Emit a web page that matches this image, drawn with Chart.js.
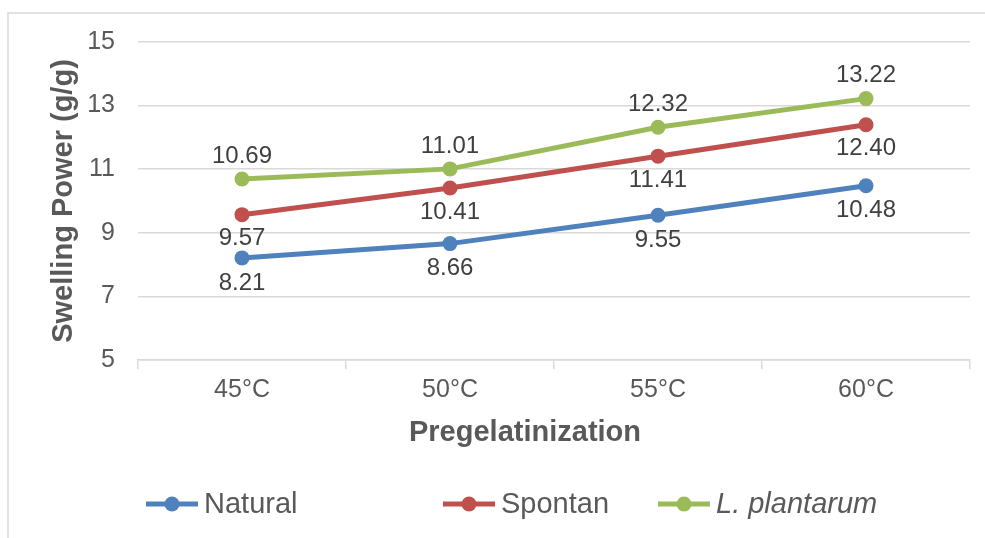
<!DOCTYPE html>
<html>
<head>
<meta charset="utf-8">
<script src="https://cdn.jsdelivr.net/npm/chart.js@4.4.1/dist/chart.umd.min.js"></script>
<style>
  html, body { margin: 0; padding: 0; background: #fff; }
  #wrap { position: relative; width: 985px; height: 538px; overflow: hidden; }
</style>
</head>
<body>
<div id="wrap"><canvas id="swellingChart" width="985" height="538"></canvas></div>
<script>
// ===== data =====
const categories = ['45°C', '50°C', '55°C', '60°C'];
const naturalValues = [8.21, 8.66, 9.55, 10.48];
const spontanValues = [9.57, 10.41, 11.41, 12.40];
const plantarumValues = [10.69, 11.01, 12.32, 13.22];
const yTicks = [5, 7, 9, 11, 13, 15];

const FONT = "'Liberation Sans', Arial, sans-serif";
const GRID = '#d9d9d9';

// frame round the chart (Excel style)
const framePlugin = {
    id: 'frame',
    beforeDraw(chart) {
        const ctx = chart.ctx;
        ctx.save();
        ctx.strokeStyle = GRID;
        ctx.lineWidth = 1.5;
        ctx.strokeRect(8, 13, 1200, 800);
        ctx.restore();
    }
};

// value labels next to each point
const valueLabels = {
    id: 'valueLabels',
    afterDatasetsDraw(chart) {
        const ctx = chart.ctx;
        ctx.save();
        ctx.font = '24px ' + FONT;
        ctx.fillStyle = '#404040';
        ctx.textAlign = 'center';
        ctx.textBaseline = 'middle';
        chart.data.datasets.forEach((ds, i) => {
            const meta = chart.getDatasetMeta(i);
            meta.data.forEach((pt, j) => {
                ctx.fillText(ds.data[j].toFixed(2), pt.x, pt.y + ds.labelOffset);
            });
        });
        ctx.restore();
    }
};

// x axis title (Excel centres it on the whole chart, not the plot)
const xTitle = {
    id: 'xTitle',
    afterDraw(chart, args, opts) {
        const ctx = chart.ctx;
        ctx.save();
        ctx.font = 'bold 29px ' + FONT;
        ctx.fillStyle = '#595959';
        ctx.textAlign = 'center';
        ctx.textBaseline = 'middle';
        ctx.fillText(opts.text, opts.x, chart.chartArea.bottom + 73);
        ctx.restore();
    }
};

// legend at the bottom, laid out like the original
const bottomLegend = {
    id: 'bottomLegend',
    afterDraw(chart, args, opts) {
        const ctx = chart.ctx;
        const y = opts.y;
        ctx.save();
        chart.data.datasets.forEach((ds, i) => {
            const x = opts.x[i];
            ctx.strokeStyle = ds.borderColor;
            ctx.lineWidth = 5;
            ctx.beginPath();
            ctx.moveTo(x, y);
            ctx.lineTo(x + 52, y);
            ctx.stroke();
            ctx.fillStyle = ds.borderColor;
            ctx.beginPath();
            ctx.arc(x + 26, y, 7.5, 0, Math.PI * 2);
            ctx.fill();
            ctx.font = (ds.italicLabel ? 'italic ' : '') + '29px ' + FONT;
            ctx.fillStyle = '#595959';
            ctx.textAlign = 'left';
            ctx.textBaseline = 'middle';
            ctx.fillText(ds.label, x + 58, y + 1);
        });
        ctx.restore();
    }
};

document.addEventListener('DOMContentLoaded', function () {
    const ctx = document.getElementById('swellingChart').getContext('2d');

    const lineDataset = (label, data, color, labelOffset, italicLabel) => ({
        label: label,
        data: data,
        borderColor: color,
        backgroundColor: color,
        borderWidth: 5,
        pointRadius: 7.5,
        pointHoverRadius: 7.5,
        pointBorderWidth: 0,
        tension: 0,
        labelOffset: labelOffset,
        italicLabel: italicLabel
    });

    new Chart(ctx, {
        type: 'line',
        data: {
            labels: categories,
            datasets: [
                lineDataset('Natural', naturalValues, '#4f81bd', 25, false),
                lineDataset('Spontan', spontanValues, '#c0504d', 24, false),
                lineDataset('L. plantarum', plantarumValues, '#9bbb59', -23, true)
            ]
        },
        options: {
            responsive: false,
            devicePixelRatio: 1,
            animation: false,
            layout: {
                padding: { left: 0, right: 15, top: 42, bottom: 83 }
            },
            scales: {
                x: {
                    offset: true,
                    afterFit(scale) { scale.height = 95; },
                    grid: {
                        offset: true,
                        drawOnChartArea: false,
                        drawTicks: true,
                        tickLength: 9,
                        color: GRID,
                        lineWidth: 1.5
                    },
                    border: { display: true, color: GRID, width: 1.5 },
                    ticks: {
                        color: '#595959',
                        font: { family: FONT, size: 25 },
                        padding: 6,
                        maxRotation: 0
                    }
                },
                y: {
                    min: yTicks[0],
                    max: yTicks[yTicks.length - 1],
                    afterFit(scale) { scale.width = 138; },
                    afterBuildTicks(scale) {
                        scale.ticks = yTicks.map(v => ({ value: v }));
                    },
                    grid: {
                        drawTicks: false,
                        color: GRID,
                        lineWidth: 1.5
                    },
                    border: { display: false },
                    ticks: {
                        color: '#595959',
                        font: { family: FONT, size: 25 },
                        padding: 23
                    },
                    title: {
                        display: true,
                        text: 'Swelling Power (g/g)',
                        color: '#595959',
                        font: { family: FONT, size: 29, weight: 'bold' },
                        padding: { top: 47, bottom: 0 }
                    }
                }
            },
            plugins: {
                legend: { display: false },
                tooltip: { enabled: false },
                xTitle: { text: 'Pregelatinization', x: 525 },
                bottomLegend: { x: [146, 443, 658], y: 504 }
            }
        },
        plugins: [framePlugin, valueLabels, xTitle, bottomLegend]
    });
});
</script>
</body>
</html>
